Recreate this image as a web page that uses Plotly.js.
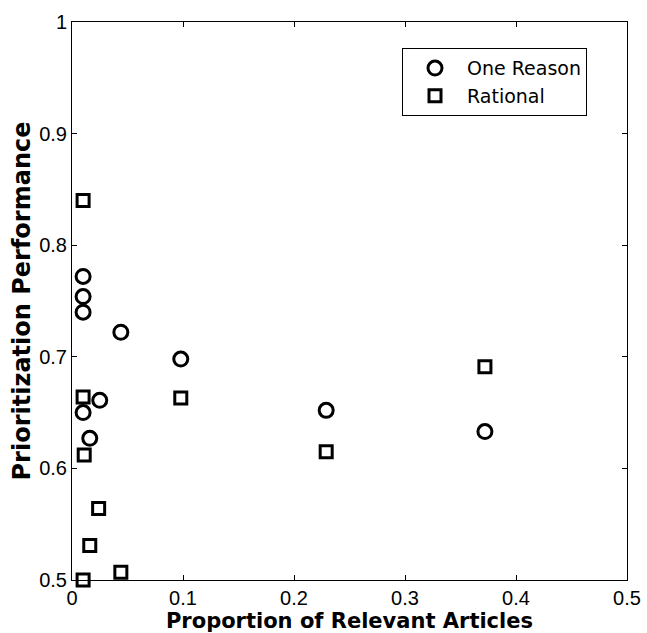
<!DOCTYPE html>
<html><head><meta charset="utf-8">
<script src="https://cdn.plot.ly/plotly-3.0.1.min.js"></script>
<style>body{margin:0;background:#fff}#c{width:647px;height:633px}</style>
</head><body><div id="c"></div>
<script>
const oneReasonX = [0.010, 0.010, 0.010, 0.044, 0.098, 0.025, 0.010, 0.016, 0.229, 0.372];
const oneReasonY = [0.772, 0.754, 0.740, 0.722, 0.698, 0.661, 0.650, 0.627, 0.652, 0.633];
const rationalX = [0.010, 0.010, 0.098, 0.011, 0.024, 0.016, 0.044, 0.010, 0.372, 0.229];
const rationalY = [0.840, 0.664, 0.663, 0.612, 0.564, 0.531, 0.507, 0.500, 0.691, 0.615];
const xTicks = [0, 0.1, 0.2, 0.3, 0.4, 0.5];
const xTickText = ['0', '0.1', '0.2', '0.3', '0.4', '0.5'];
const yTicks = [0.5, 0.6, 0.7, 0.8, 0.9, 1];
const yTickText = ['0.5', '0.6', '0.7', '0.8', '0.9', '1'];

const font = 'Liberation Sans, Arial, sans-serif';
const wide = 'DejaVu Sans, sans-serif';
const traces = [
  {x: oneReasonX, y: oneReasonY, type: 'scatter', mode: 'markers', name: 'One Reason',
   marker: {symbol: 'circle-open', size: 14, color: '#000', line: {width: 3, color: '#000'}}, cliponaxis: false},
  {x: rationalX, y: rationalY, type: 'scatter', mode: 'markers', name: 'Rational',
   marker: {symbol: 'square-open', size: 12, color: '#000', line: {width: 3, color: '#000'}}, cliponaxis: false}
];
const axisCommon = {showgrid: false, zeroline: false, showline: true, mirror: 'ticks', linecolor: '#000', linewidth: 1,
  ticks: 'inside', ticklen: 5, tickcolor: '#000', tickfont: {family: font, size: 20, color: '#000'}};
const layout = {
  width: 647, height: 633,
  margin: {l: 72, r: 20, t: 22, b: 53},
  paper_bgcolor: '#fff', plot_bgcolor: '#fff',
  showlegend: true,
  legend: {x: 0.5946, y: 0.953, xanchor: 'left', yanchor: 'top', bordercolor: '#000', borderwidth: 1,
    bgcolor: '#fff', font: {family: wide, size: 19, color: '#000'}, itemwidth: 54, tracegroupgap: 0,
    itemsizing: 'trace', entrywidth: 222},
  xaxis: Object.assign({}, axisCommon, {range: [0, 0.5], tickvals: xTicks, ticktext: xTickText,
    title: {text: 'Proportion of Relevant Articles', font: {family: wide, size: 21, color: '#000', weight: 'bold'}, standoff: 0}}),
  yaxis: Object.assign({}, axisCommon, {range: [0.5, 1], tickvals: yTicks, ticktext: yTickText,
    title: {text: 'Prioritization Performance', font: {family: wide, size: 24, color: '#000', weight: 'bold'}, standoff: 1}})
};
Plotly.newPlot('c', traces, layout, {displayModeBar: false, staticPlot: true});
</script></body></html>
